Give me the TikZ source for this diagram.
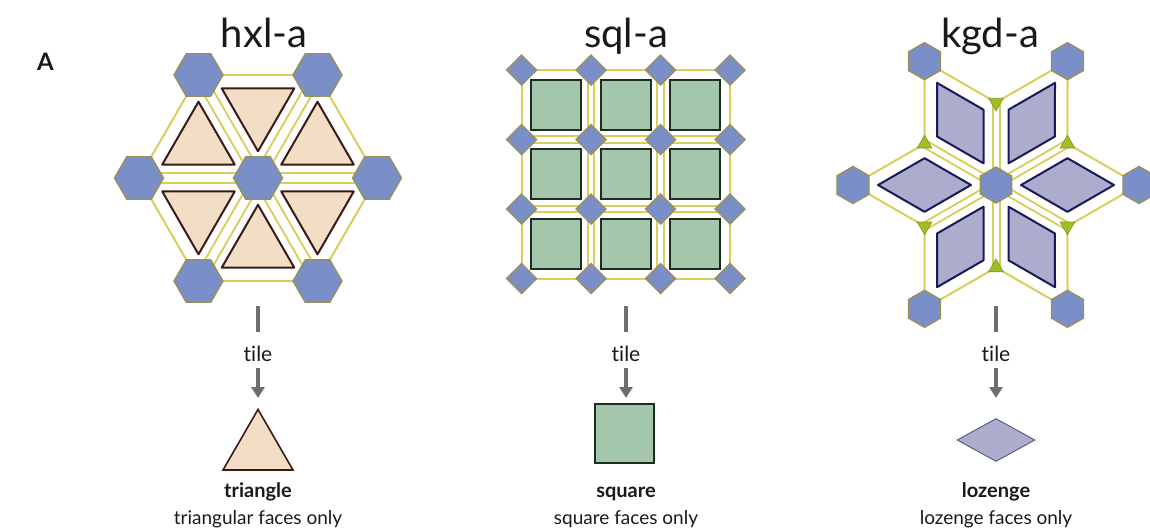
\documentclass[tikz,border=0pt]{standalone}
\usepackage{fontspec}
\setmainfont[Ligatures=NoCommon]{Lato}
\usetikzlibrary{shapes.geometric,calc,arrows.meta}
\definecolor{hexfill}{RGB}{122,143,200}
\definecolor{hexline}{RGB}{150,145,90}
\definecolor{yel}{RGB}{216,206,92}
\definecolor{beige}{RGB}{242,222,196}
\definecolor{brownline}{RGB}{60,25,25}
\definecolor{greenfill}{RGB}{164,199,172}
\definecolor{greenline}{RGB}{30,45,35}
\definecolor{lozfill}{RGB}{172,172,204}
\definecolor{lozline}{RGB}{25,25,90}
\definecolor{lime}{RGB}{160,190,40}
\definecolor{arrgray}{RGB}{110,110,110}
\definecolor{ink}{RGB}{25,25,25}
\begin{document}
\begin{tikzpicture}[x=1pt,y=-1pt,
  yline/.style={draw=yel,line width=2pt,line join=round},
  ydouble/.style={draw=yel,line width=2pt,double=white,double distance=#1},
  hexa/.style={regular polygon,regular polygon sides=6,minimum size=49pt,inner sep=0pt,fill=hexfill,draw=hexline,line width=1.4pt},
  hexb/.style={hexa,minimum size=37pt,shape border rotate=30},
  dia/.style={regular polygon,regular polygon sides=4,minimum size=30pt,inner sep=0pt,fill=hexfill,draw=hexline,line width=1.4pt,shape border rotate=45},
  limetri/.style={regular polygon,regular polygon sides=3,minimum size=17pt,inner sep=0pt,fill=lime,draw=lime!80!black,line width=0.6pt},
  triface/.style={fill=beige,draw=brownline,line width=2pt,line join=round},
  sqface/.style={fill=greenfill,draw=greenline,line width=2pt},
  lozface/.style={fill=lozfill,draw=lozline,line width=2pt,line join=round},
  bar/.style={draw=arrgray,line width=4pt},
  arr/.style={draw=arrgray,line width=4pt,-{Triangle[width=13pt,length=11pt]}},
  ttl/.style={anchor=base,text=ink,font=\fontsize{40}{46}\selectfont,inner sep=0pt},
  tilelab/.style={anchor=base,text=ink,font=\fontsize{21}{25}\selectfont,inner sep=0pt},
  namelab/.style={anchor=base,text=ink,font=\bfseries\fontsize{20}{24}\selectfont,inner sep=0pt},
  sublab/.style={anchor=base,text=ink,font=\fontsize{19}{23}\selectfont,inner sep=0pt}
]
\useasboundingbox (0,0) rectangle (1150,531);

% panel label and titles
\node[anchor=base west,text=ink,font=\bfseries\fontsize{24}{28}\selectfont,inner sep=0pt] (lblA) at (37,70) {A};
\node[ttl] (t1) at (264,47) {hxl-a};
\node[ttl] (t2) at (626,47) {sql-a};
\node[ttl] (t3) at (990,47) {kgd-a};

% ---------------- hxl-a ----------------
\coordinate (hC) at (258,178);
\foreach \k in {0,...,5} \coordinate (hO\k) at ($(hC)+(\k*60:119)$);
\foreach \k in {0,...,5} \draw[ydouble=8pt] (hC) -- (hO\k);
\draw[yline] (hO0) -- (hO1) -- (hO2) -- (hO3) -- (hO4) -- (hO5) -- cycle;
\foreach \k [evaluate=\k as \n using {int(mod(\k+1,6))}] in {0,...,5} {
  \coordinate (hG\k) at ($0.33333*(hC)+0.33333*(hO\k)+0.33333*(hO\n)$);
  \draw[triface] ($(hG\k)!0.61!(hC)$) -- ($(hG\k)!0.61!(hO\k)$) -- ($(hG\k)!0.61!(hO\n)$) -- cycle;
}
\foreach \k in {0,...,5} \node[hexa] (hh\k) at (hO\k) {};
\node[hexa] (hhc) at (hC) {};

% ---------------- sql-a ----------------
\foreach \i in {1,2} {
  \draw[ydouble=4.5pt] (521.5+69.5*\i,70) -- (521.5+69.5*\i,278.5);
  \draw[ydouble=4.5pt] (521.5,70+69.5*\i) -- (730,70+69.5*\i);
}
\draw[yline] (521.5,70) rectangle (730,278.5);
\foreach \i in {0,1,2} {
  \foreach \j in {0,1,2} {
    \pgfmathsetmacro\cx{556.25+69.5*\i}
    \pgfmathsetmacro\cy{104.75+69.5*\j}
    \draw[sqface] (\cx-24.8,\cy-24.8) rectangle (\cx+24.8,\cy+24.8);
  }
}
\foreach \i in {0,...,3} {
  \foreach \j in {0,...,3} {
    \node[dia] (sd\i\j) at (521.5+69.5*\i,70+69.5*\j) {};
  }
}

% ---------------- kgd-a ----------------
\coordinate (K) at (996,185);
\foreach \k in {0,...,5} {
  \coordinate (kH\k) at ($(K)+(\k*60:143)$);
  \coordinate (kT\k) at ($(K)+(\k*60+30:82.5)$);
}
\foreach \k in {0,...,5} \draw[ydouble=5pt] (K) -- (kT\k);
\draw[yline] (kH0) -- (kT0) -- (kH1) -- (kT1) -- (kH2) -- (kT2) -- (kH3) -- (kT3) -- (kH4) -- (kT4) -- (kH5) -- (kT5) -- cycle;
\foreach \k [evaluate=\k as \p using {int(mod(\k+5,6))}] in {0,...,5} {
  \coordinate (kM\k) at ($(K)!0.5!(kH\k)$);
  \draw[lozface] ($(kM\k)!0.65!(K)$) -- ($(kM\k)!0.65!(kT\p)$) -- ($(kM\k)!0.65!(kH\k)$) -- ($(kM\k)!0.65!(kT\k)$) -- cycle;
}
\foreach \k in {0,2,4} \node[limetri,shape border rotate=180] (kt\k) at (kT\k) {};
\foreach \k in {1,3,5} \node[limetri] (kt\k) at (kT\k) {};
\foreach \k in {0,...,5} \node[hexb] (kh\k) at (kH\k) {};
\node[hexb,minimum size=36pt] (khc) at (K) {};

% ---------------- tile arrows ----------------
\foreach \x/\n in {258/1,626/2,996/3} {
  \coordinate (b\n a) at (\x,306);
  \coordinate (b\n b) at (\x,332);
  \coordinate (a\n a) at (\x,368);
  \coordinate (a\n b) at (\x,398);
  \draw[bar] (b\n a) -- (b\n b);
  \node[tilelab] (tile\n) at (\x,361) {tile};
  \draw[arr] (a\n a) -- (a\n b);
}

% tiles
\node[regular polygon,regular polygon sides=3,minimum size=80.8pt,inner sep=0pt,fill=beige,draw=brownline,line width=1.6pt] (tri) at (258,449.8) {};
\node[rectangle,minimum size=59pt,inner sep=0pt,fill=greenfill,draw=greenline,line width=2pt] (sq) at (624.5,433) {};
\node[diamond,minimum width=78pt,minimum height=43pt,inner sep=0pt,fill=lozfill,draw=lozline!70,line width=1pt] (loz) at (996,440) {};

% labels
\node[namelab] (n1) at (258,497) {triangle};
\node[sublab] (s1) at (258,524) {triangular faces only};
\node[namelab] (n2) at (626,497) {square};
\node[sublab] (s2) at (626,524) {square faces only};
\node[namelab] (n3) at (996,497) {lozenge};
\node[sublab] (s3) at (996,524) {lozenge faces only};
\end{tikzpicture}
\end{document}
